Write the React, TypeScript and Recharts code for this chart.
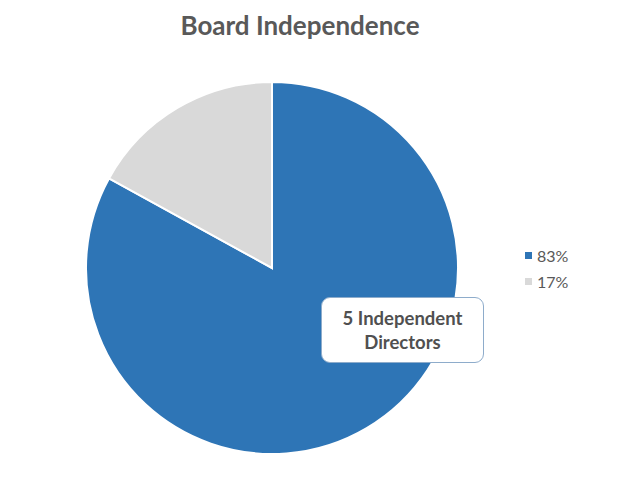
import { Cell, Legend, Pie, PieChart } from "recharts";

const labels = ["83%", "17%"];
const values = [83, 17];
const colors = ["#2e75b6", "#d9d9d9"];

const data = labels.map((name, i) => ({ name, value: values[i] }));

const font = "Lato, 'Open Sans', sans-serif";

function LegendBox() {
  return (
    <div style={{ fontFamily: font, fontSize: 16, color: "#595959" }}>
      {labels.map((l, i) => (
        <div key={l} style={{ display: "flex", alignItems: "center", height: 26 }}>
          <span
            style={{
              width: 7,
              height: 7,
              background: colors[i],
              display: "inline-block",
              marginRight: 5,
            }}
          />
          {l}
        </div>
      ))}
    </div>
  );
}

export default function App() {
  return (
    <div style={{ position: "absolute", left: 0, top: 0, width: 623, height: 477, background: "#fff" }}>
      <div
        style={{
          position: "absolute",
          top: 9,
          width: 600,
          textAlign: "center",
          fontFamily: font,
          fontWeight: 700,
          fontSize: 26,
          color: "#595959",
        }}
      >
        Board Independence
      </div>
      <PieChart width={623} height={477} margin={{ top: 0, right: 0, bottom: 0, left: 0 }}>
        <Pie
          data={data}
          dataKey="value"
          nameKey="name"
          cx={272}
          cy={268}
          outerRadius={186}
          startAngle={90}
          endAngle={-270}
          stroke="#fff"
          strokeWidth={2}
          isAnimationActive={false}
        >
          {data.map((d, i) => (
            <Cell key={d.name} fill={colors[i]} />
          ))}
        </Pie>
        <Legend
          content={() => <LegendBox />}
          wrapperStyle={{ left: 525, top: 242, width: 80 }}
        />
      </PieChart>
      <div
        style={{
          position: "absolute",
          left: 321,
          top: 297,
          width: 161,
          height: 64,
          border: "1px solid #8eaccb",
          borderRadius: 9,
          background: "#fff",
          display: "flex",
          alignItems: "center",
          justifyContent: "center",
          textAlign: "center",
          fontFamily: font,
          fontWeight: 700,
          fontSize: 18.5,
          lineHeight: "24px",
          color: "#505050",
        }}
      >
        5 Independent
        <br />
        Directors
      </div>
    </div>
  );
}
